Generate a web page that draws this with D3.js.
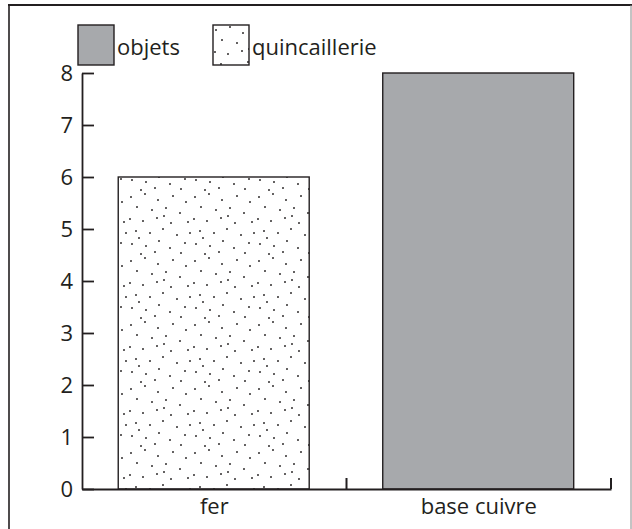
<!DOCTYPE html>
<html>
<head>
<meta charset="utf-8">
<script src="https://cdn.jsdelivr.net/npm/d3@7/dist/d3.min.js"></script>
<style>
  html, body { margin: 0; padding: 0; background: #fff; }
  svg { display: block; font-family: "Open Sans", sans-serif; }
</style>
</head>
<body>
<svg id="chart" width="632" height="529"></svg>
<script>
// ---- data ----
const categories = ["fer", "base cuivre"];
const values = [6, 8];
const barSeries = ["quincaillerie", "objets"];   // series of each bar
const legendLabels = ["objets", "quincaillerie"];
const yTicks = [0, 1, 2, 3, 4, 5, 6, 7, 8];

// ---- styles ----
const ink = "#231f20";
const gray = "#a7a9ac";
const fontSize = 22;

const svg = d3.select("#chart");

// dotted pattern (fixed irregular tile)
const dots = [[3,5],[17,2],[30,8],[45,4],[58,10],[9,15],[24,18],[38,16],[52,21],[2,27],[15,29],[29,26],
              [43,31],[60,30],[8,39],[22,41],[35,37],[49,43],[62,41],[57,51],[4,52],[18,54],[31,49],[42,56],
              [13,62],[27,60],[53,61],[36,24],[11,46]];
const defs = svg.append("defs");
const pat = defs.append("pattern")
  .attr("id", "dots").attr("patternUnits", "userSpaceOnUse")
  .attr("width", 64).attr("height", 64);
pat.append("rect").attr("width", 64).attr("height", 64).attr("fill", "#fff");
pat.selectAll("circle").data(dots).join("circle")
  .attr("cx", d => d[0]).attr("cy", d => d[1]).attr("r", 0.95).attr("fill", ink);

const fillFor = s => s === "objets" ? gray : "url(#dots)";

// outer frame
svg.append("line").attr("x1", 9).attr("x2", 9).attr("y1", 5).attr("y2", 529)
  .attr("stroke", ink).attr("stroke-width", 1.6);
svg.append("line").attr("x1", 8).attr("x2", 632).attr("y1", 5).attr("y2", 5)
  .attr("stroke", ink).attr("stroke-width", 2);
svg.append("line").attr("x1", 631).attr("x2", 631).attr("y1", 5).attr("y2", 529)
  .attr("stroke", "#888").attr("stroke-width", 1);

// scales
const x = d3.scaleBand().domain(categories).range([82, 611]).padding(0);
const y = d3.scaleLinear().domain([0, 8]).range([489, 73]);

// bars
const bw = x.bandwidth();
svg.selectAll("rect.bar").data(categories).join("rect")
  .attr("class", "bar")
  .attr("x", d => x(d) + bw * 0.137)
  .attr("width", bw * 0.722)
  .attr("y", (d, i) => y(values[i]))
  .attr("height", (d, i) => y(0) - y(values[i]))
  .attr("fill", (d, i) => fillFor(barSeries[i]))
  .attr("stroke", ink).attr("stroke-width", 1.4);

// y axis
const yAxis = d3.axisLeft(y).tickValues(yTicks).tickFormat(d3.format("d"))
  .tickSizeInner(-12).tickSizeOuter(0).tickPadding(9);
const gy = svg.append("g").attr("transform", "translate(82,0)").call(yAxis);
gy.select(".domain").attr("stroke", ink).attr("stroke-width", 1.8);
gy.selectAll(".tick line").attr("stroke", ink).attr("stroke-width", 1.8);
gy.selectAll(".tick text").attr("font-size", fontSize).attr("font-family", "Open Sans, sans-serif")
  .attr("fill", ink).attr("dy", "0.35em");

// x axis
const xAxis = d3.axisBottom(x).tickSizeInner(0).tickSizeOuter(0).tickPadding(9);
const gx = svg.append("g").attr("transform", "translate(0,489)").call(xAxis);
gx.select(".domain").attr("stroke", ink).attr("stroke-width", 2);
gx.selectAll(".tick text").attr("font-size", fontSize).attr("font-family", "Open Sans, sans-serif")
  .attr("fill", ink);
// boundary ticks pointing up
gx.selectAll("line.bound").data(categories).join("line")
  .attr("class", "bound")
  .attr("x1", d => x(d) + bw).attr("x2", d => x(d) + bw)
  .attr("y1", 0).attr("y2", -11)
  .attr("stroke", ink).attr("stroke-width", 2);

// legend
const legendX = [78, 213];
const lg = svg.selectAll("g.leg").data(legendLabels).join("g")
  .attr("class", "leg")
  .attr("transform", (d, i) => `translate(${legendX[i]},25)`);
lg.append("rect").attr("width", 36).attr("height", 40)
  .attr("fill", d => fillFor(d)).attr("stroke", ink).attr("stroke-width", 1.4);
lg.append("text").attr("x", 39).attr("y", 30)
  .attr("font-size", fontSize).attr("fill", ink)
  .text(d => d);
</script>
</body>
</html>
